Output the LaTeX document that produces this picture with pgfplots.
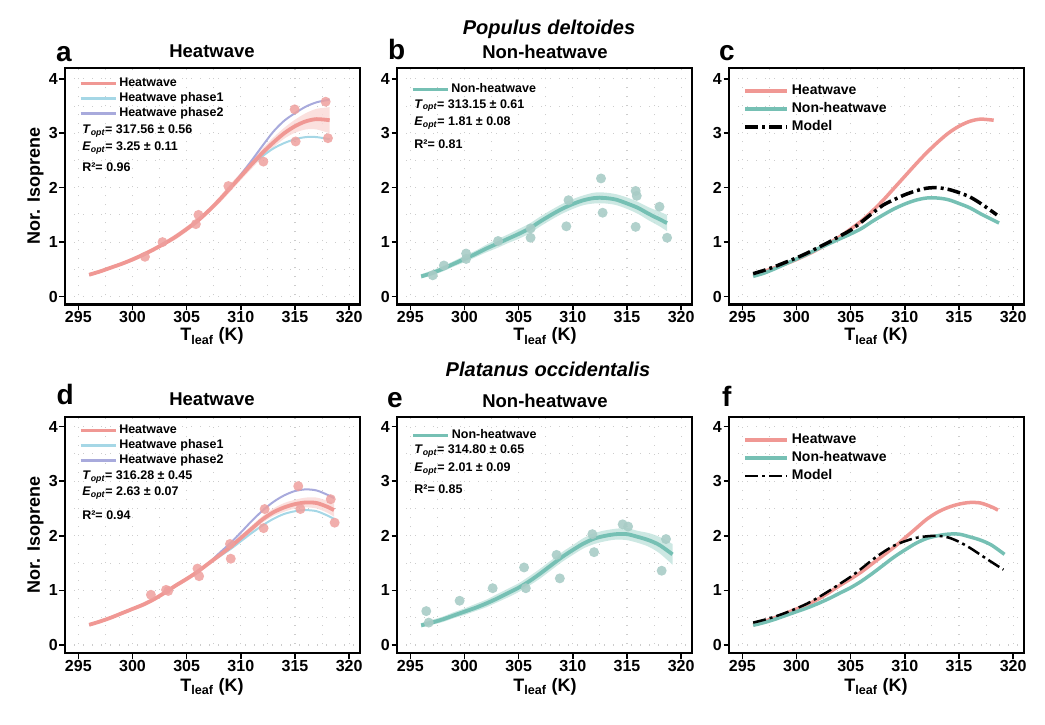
\documentclass[border=0pt]{standalone}
\usepackage{fontspec}
\setmainfont{Liberation Sans}
\usepackage{pgfplots}
\pgfplotsset{compat=1.18}
\usepackage{pgfplotstable}
\usepgfplotslibrary{fillbetween}

\definecolor{hw}{RGB}{240,152,148}
\definecolor{ph1}{RGB}{165,215,230}
\definecolor{ph2}{RGB}{168,170,220}
\definecolor{nhw}{RGB}{118,192,180}
\definecolor{hwpt}{RGB}{238,160,158}
\definecolor{nhwpt}{RGB}{168,204,198}
\definecolor{hwrib}{RGB}{250,218,216}
\definecolor{nhwrib}{RGB}{196,228,222}

% Populus heatwave fit
\pgfplotstableread{
T y lo hi
296 0.40 0.37 0.43
297 0.46 0.43 0.49
298 0.53 0.50 0.56
299 0.60 0.57 0.63
300 0.68 0.64 0.72
301 0.77 0.73 0.81
302 0.87 0.83 0.91
303 0.98 0.94 1.02
304 1.10 1.05 1.15
305 1.24 1.19 1.29
306 1.39 1.34 1.44
307 1.57 1.52 1.62
308 1.77 1.71 1.83
309 1.99 1.92 2.06
310 2.21 2.14 2.28
311 2.43 2.35 2.51
312 2.64 2.56 2.72
313 2.83 2.74 2.92
314 3.00 2.90 3.10
315 3.13 3.01 3.25
316 3.22 3.07 3.37
317 3.26 3.07 3.45
318.2 3.24 3.00 3.48
}\aHW
\pgfplotstableread{
T y
296 0.40
298 0.53
300 0.68
302 0.87
304 1.10
306 1.39
308 1.77
309 1.99
310 2.20
311 2.42
312 2.58
313 2.72
314 2.82
315 2.89
316 2.93
317 2.93
318.2 2.89
}\aPone
\pgfplotstableread{
T y
296 0.40
298 0.53
300 0.68
302 0.87
304 1.10
306 1.39
308 1.77
309 1.99
310 2.24
311 2.50
312 2.77
313 3.03
314 3.23
315 3.37
316 3.49
317 3.57
318.2 3.62
}\aPtwo
\pgfplotstableread{
T y
301.15 0.73
302.77 1.00
305.85 1.33
306.09 1.50
308.85 2.03
312.08 2.48
314.97 3.44
315.06 2.85
317.83 3.58
318.04 2.91
}\aPts

% Populus non-heatwave fit
\pgfplotstableread{
T y lo hi
296 0.37 0.33 0.41
297 0.43 0.39 0.48
298 0.51 0.46 0.56
299 0.60 0.55 0.65
300 0.69 0.63 0.75
301 0.78 0.72 0.84
302 0.88 0.81 0.95
303 0.97 0.89 1.05
304 1.06 0.98 1.14
305 1.15 1.06 1.24
306 1.25 1.16 1.34
307 1.38 1.29 1.47
308 1.50 1.41 1.59
309 1.61 1.52 1.70
310 1.70 1.61 1.79
311 1.77 1.68 1.86
312 1.81 1.71 1.91
313 1.81 1.71 1.91
314 1.78 1.68 1.88
315 1.71 1.61 1.82
316 1.63 1.52 1.74
317 1.52 1.40 1.64
318 1.42 1.29 1.56
318.7 1.35 1.20 1.50
}\bNHW
\pgfplotstableread{
T y
297.07 0.39
298.1 0.57
300.15 0.79
300.15 0.69
303.1 1.02
306.1 1.08
306.1 1.25
309.6 1.77
309.4 1.29
312.6 2.17
312.75 1.54
315.8 1.94
315.9 1.85
315.8 1.28
318.0 1.65
318.7 1.08
}\bPts

% Populus model
\pgfplotstableread{
T y
296 0.42
297 0.48
298 0.55
299 0.63
300 0.71
301 0.80
302 0.90
303 1.00
304 1.11
305 1.22
306 1.37
307 1.53
308 1.68
309 1.78
310 1.87
311 1.94
312 1.99
313 2.00
314 1.97
315 1.91
316 1.83
317 1.71
318.5 1.50
}\cMod

% Platanus heatwave fit
\pgfplotstableread{
T y lo hi
296 0.37 0.34 0.40
297 0.43 0.40 0.46
298 0.50 0.47 0.53
299 0.58 0.55 0.61
300 0.66 0.63 0.69
301 0.74 0.70 0.78
302 0.84 0.80 0.88
303 0.96 0.92 1.00
304 1.09 1.05 1.13
305 1.21 1.17 1.25
306 1.34 1.30 1.38
307 1.49 1.45 1.53
308 1.64 1.59 1.69
309 1.79 1.74 1.84
310 1.96 1.91 2.01
311 2.13 2.07 2.19
312 2.30 2.24 2.36
313 2.43 2.36 2.50
314 2.52 2.44 2.60
315 2.58 2.50 2.66
316 2.61 2.52 2.70
317 2.60 2.50 2.70
318 2.53 2.42 2.64
318.6 2.47 2.35 2.59
}\dHW
\pgfplotstableread{
T y
296 0.37
298 0.50
300 0.66
302 0.84
304 1.09
306 1.34
307 1.49
308 1.62
309 1.75
310 1.90
311 2.05
312 2.19
313 2.31
314 2.40
315 2.45
316 2.47
317 2.45
318 2.37
318.6 2.31
}\dPone
\pgfplotstableread{
T y
296 0.37
298 0.50
300 0.66
302 0.84
304 1.09
306 1.34
307 1.49
308 1.68
309 1.86
310 2.06
311 2.27
312 2.46
313 2.62
314 2.74
315 2.82
316 2.85
317 2.83
318 2.75
318.6 2.69
}\dPtwo
\pgfplotstableread{
T y
301.7 0.92
303.1 1.01
303.3 0.99
306.0 1.40
306.15 1.26
309.07 1.58
309.0 1.85
312.2 2.49
312.1 2.14
315.3 2.91
315.5 2.49
318.3 2.67
318.66 2.24
}\dPts

% Platanus non-heatwave fit
\pgfplotstableread{
T y lo hi
296 0.36 0.32 0.40
297 0.41 0.37 0.46
298 0.47 0.42 0.52
299 0.54 0.49 0.60
300 0.61 0.55 0.67
301 0.68 0.62 0.75
302 0.76 0.69 0.83
303 0.85 0.78 0.93
304 0.95 0.87 1.03
305 1.05 0.97 1.13
306 1.17 1.09 1.26
307 1.31 1.22 1.40
308 1.46 1.37 1.55
309 1.61 1.52 1.70
310 1.74 1.65 1.83
311 1.86 1.77 1.96
312 1.95 1.85 2.05
313 2.00 1.90 2.10
314 2.03 1.93 2.13
315 2.03 1.92 2.14
316 1.98 1.87 2.09
317 1.92 1.80 2.05
318 1.83 1.68 1.98
319.2 1.66 1.47 1.85
}\eNHW
\pgfplotstableread{
T y
296.47 0.62
296.7 0.41
299.55 0.81
302.6 1.04
305.5 1.42
305.66 1.04
308.5 1.65
308.8 1.22
311.8 2.03
311.96 1.70
314.6 2.21
315.1 2.17
318.2 1.36
318.6 1.94
}\ePts

% Platanus model
\pgfplotstableread{
T y
296 0.41
297 0.46
298 0.52
299 0.59
300 0.67
301 0.76
302 0.87
303 0.99
304 1.12
305 1.25
306 1.40
307 1.56
308 1.70
309 1.82
310 1.90
311 1.96
312 1.99
313 2.00
314 1.97
315 1.89
316 1.78
317 1.65
318 1.52
319.1 1.38
}\fMod

\pgfplotsset{
  panel/.style={
    scale only axis, width=295pt, height=236.5pt, anchor=south west,
    xmin=293.77, xmax=321.0, ymin=-0.147, ymax=4.2,
    xtick={295,300,...,320}, ytick={0,1,2,3,4},
    minor xtick={297.5,302.5,307.5,312.5,317.5},
    minor ytick={0.5,1.5,2.5,3.5},
    grid=both,
    major grid style={black!20, line width=1.1pt, dash pattern=on 1.2pt off 7.8pt},
    minor grid style={black!20, line width=1.1pt, dash pattern=on 1.2pt off 7.8pt},
    axis line style={line width=2.6pt, black},
    tick align=outside, tick pos=left,
    major tick length=5.5pt, minor tick length=0pt,
    major tick style={line width=1.6pt, black},
    ticklabel style={font=\bfseries\fontsize{16}{16}\selectfont, inner sep=1.5pt},
    /pgf/number format/assume math mode=true,
    /pgf/number format/1000 sep={},
    legend cell align=left,
    legend style={draw=none, fill=none, anchor=north west, inner sep=0pt,
      font=\bfseries\fontsize{12.5}{13}\selectfont,
      nodes={inner ysep=0pt, inner xsep=2pt, text height=9pt, text depth=3pt},
      row sep=3pt},
    legend image code/.code={\draw[##1] (0pt,0pt) -- (35pt,0pt);},
  },
  rowtwo/.style={height=236pt, ymin=-0.147, ymax=4.176},
  bigleg/.style={
    legend style={font=\bfseries\fontsize{14}{15}\selectfont,
      nodes={inner ysep=0pt, inner xsep=3pt, text height=10pt, text depth=3pt},
      row sep=5pt},
    legend image code/.code={\draw[##1] (0pt,0pt) -- (42pt,0pt);},
  },
}
\tikzset{ann/.style={anchor=west, inner sep=0pt, font=\bfseries\fontsize{12.5}{13}\selectfont}}

\newcommand{\topt}{\textit{T}\textsubscript{\textit{opt}}}
\newcommand{\eopt}{\textit{E}\textsubscript{\textit{opt}}}
\newcommand{\tleaf}{T\textsubscript{leaf} (K)}

\begin{document}
\begin{tikzpicture}
\path (0,0) rectangle (1045pt,724pt);

% ---------------- panel a ----------------
\begin{axis}[panel, at={(65pt,419.5pt)},
  legend style={at={(axis description cs:0.046,0.960)}}]
\addlegendimage{hw, line width=3.5pt}\addlegendentry{Heatwave}
\addlegendimage{ph1, line width=3pt}\addlegendentry{Heatwave phase1}
\addlegendimage{ph2, line width=3pt}\addlegendentry{Heatwave phase2}
\addplot[name path=aup, draw=none, smooth, forget plot] table[x=T,y=hi]{\aHW};
\addplot[name path=alo, draw=none, smooth, forget plot] table[x=T,y=lo]{\aHW};
\addplot[hwrib, fill opacity=0.85, forget plot] fill between[of=aup and alo];
\addplot[only marks, mark=*, mark size=5pt, hwpt, fill opacity=0.85, draw opacity=0, forget plot] table{\aPts};
\addplot[ph1, line width=2pt, smooth, forget plot] table{\aPone};
\addplot[ph2, line width=2pt, smooth, forget plot] table{\aPtwo};
\addplot[hw, line width=3.8pt, smooth, forget plot] table[x=T,y=y]{\aHW};
\node[ann] at (axis description cs:0.058,0.735) {\topt= 317.56 ± 0.56};
\node[ann] at (axis description cs:0.058,0.660) {\eopt= 3.25 ± 0.11};
\node[ann] at (axis description cs:0.058,0.580) {R²= 0.96};
\end{axis}

% ---------------- panel b ----------------
\begin{axis}[panel, at={(397pt,419.5pt)},
  legend style={at={(axis description cs:0.046,0.936)}}]
\addlegendimage{nhw, line width=3.5pt}\addlegendentry{Non-heatwave}
\addplot[name path=bup, draw=none, smooth, forget plot] table[x=T,y=hi]{\bNHW};
\addplot[name path=blo, draw=none, smooth, forget plot] table[x=T,y=lo]{\bNHW};
\addplot[nhwrib, fill opacity=0.85, forget plot] fill between[of=bup and blo];
\addplot[only marks, mark=*, mark size=5pt, nhwpt, fill opacity=0.9, draw opacity=0, forget plot] table{\bPts};
\addplot[nhw, line width=3.8pt, smooth, forget plot] table[x=T,y=y]{\bNHW};
\node[ann] at (axis description cs:0.058,0.841) {\topt= 313.15 ± 0.61};
\node[ann] at (axis description cs:0.058,0.766) {\eopt= 1.81 ± 0.08};
\node[ann] at (axis description cs:0.058,0.677) {R²= 0.81};
\end{axis}

% ---------------- panel c ----------------
\begin{axis}[panel, bigleg, at={(729pt,419.5pt)},
  legend style={at={(axis description cs:0.048,0.932)}}]
\addlegendimage{hw, line width=3.5pt}\addlegendentry{Heatwave}
\addlegendimage{nhw, line width=3.5pt}\addlegendentry{Non-heatwave}
\addlegendimage{black, line width=3.5pt, dash pattern=on 13pt off 4pt on 3pt off 4pt}\addlegendentry{Model}
\addplot[hw, line width=3.5pt, smooth, forget plot] table[x=T,y=y]{\aHW};
\addplot[nhw, line width=3.5pt, smooth, forget plot] table[x=T,y=y]{\bNHW};
\addplot[black, line width=3.5pt, smooth, dash pattern=on 13pt off 4pt on 3pt off 4pt, forget plot] table{\cMod};
\end{axis}

% ---------------- panel d ----------------
\begin{axis}[panel, rowtwo, at={(65pt,71pt)},
  legend style={at={(axis description cs:0.046,0.969)}}]
\addlegendimage{hw, line width=3.5pt}\addlegendentry{Heatwave}
\addlegendimage{ph1, line width=3pt}\addlegendentry{Heatwave phase1}
\addlegendimage{ph2, line width=3pt}\addlegendentry{Heatwave phase2}
\addplot[name path=dup, draw=none, smooth, forget plot] table[x=T,y=hi]{\dHW};
\addplot[name path=dlo, draw=none, smooth, forget plot] table[x=T,y=lo]{\dHW};
\addplot[hwrib, fill opacity=0.85, forget plot] fill between[of=dup and dlo];
\addplot[only marks, mark=*, mark size=5pt, hwpt, fill opacity=0.85, draw opacity=0, forget plot] table{\dPts};
\addplot[ph1, line width=2pt, smooth, forget plot] table{\dPone};
\addplot[ph2, line width=2pt, smooth, forget plot] table{\dPtwo};
\addplot[hw, line width=3.8pt, smooth, forget plot] table[x=T,y=y]{\dHW};
\node[ann] at (axis description cs:0.058,0.747) {\topt= 316.28 ± 0.45};
\node[ann] at (axis description cs:0.058,0.677) {\eopt= 2.63 ± 0.07};
\node[ann] at (axis description cs:0.058,0.585) {R²= 0.94};
\end{axis}

% ---------------- panel e ----------------
\begin{axis}[panel, rowtwo, at={(397pt,71pt)},
  legend style={at={(axis description cs:0.048,0.947)}}]
\addlegendimage{nhw, line width=3.5pt}\addlegendentry{Non-heatwave}
\addplot[name path=eup, draw=none, smooth, forget plot] table[x=T,y=hi]{\eNHW};
\addplot[name path=elo, draw=none, smooth, forget plot] table[x=T,y=lo]{\eNHW};
\addplot[nhwrib, fill opacity=0.85, forget plot] fill between[of=eup and elo];
\addplot[only marks, mark=*, mark size=5pt, nhwpt, fill opacity=0.9, draw opacity=0, forget plot] table{\ePts};
\addplot[nhw, line width=3.8pt, smooth, forget plot] table[x=T,y=y]{\eNHW};
\node[ann] at (axis description cs:0.058,0.857) {\topt= 314.80 ± 0.65};
\node[ann] at (axis description cs:0.058,0.778) {\eopt= 2.01 ± 0.09};
\node[ann] at (axis description cs:0.058,0.694) {R²= 0.85};
\end{axis}

% ---------------- panel f ----------------
\begin{axis}[panel, rowtwo, bigleg, at={(729pt,71pt)},
  legend style={at={(axis description cs:0.048,0.931)}}]
\addlegendimage{hw, line width=3.5pt}\addlegendentry{Heatwave}
\addlegendimage{nhw, line width=3.5pt}\addlegendentry{Non-heatwave}
\addlegendimage{black, line width=2.5pt, dash pattern=on 13pt off 4pt on 3pt off 4pt}\addlegendentry{Model}
\addplot[hw, line width=3.5pt, smooth, forget plot] table[x=T,y=y]{\dHW};
\addplot[nhw, line width=3.5pt, smooth, forget plot] table[x=T,y=y]{\eNHW};
\addplot[black, line width=2.5pt, smooth, dash pattern=on 13pt off 4pt on 3pt off 4pt, forget plot] table{\fMod};
\end{axis}

% ---------------- texts ----------------
\begin{scope}[every node/.style={inner sep=0pt}]
\node[anchor=base, font=\bfseries\itshape\fontsize{20}{20}\selectfont] at (549pt,689pt) {Populus deltoides};
\node[anchor=base, font=\bfseries\itshape\fontsize{20}{20}\selectfont] at (548pt,347pt) {Platanus occidentalis};
\foreach \l/\x/\y in {a/56/662.5, b/388/664, c/719/663.5, d/56.5/319, e/387/316.5, f/722/317.5}
  \node[anchor=base west, font=\bfseries\fontsize{28}{28}\selectfont] at (\x pt,\y pt) {\l};
\node[anchor=base, font=\bfseries\fontsize{18.5}{19}\selectfont] at (212pt,666pt) {Heatwave};
\node[anchor=base, font=\bfseries\fontsize{18.5}{19}\selectfont] at (545pt,665pt) {Non-heatwave};
\node[anchor=base, font=\bfseries\fontsize{18.5}{19}\selectfont] at (212pt,318pt) {Heatwave};
\node[anchor=base, font=\bfseries\fontsize{18.5}{19}\selectfont] at (545pt,316.5pt) {Non-heatwave};
\foreach \x in {212,545,876}{
  \node[anchor=base, font=\bfseries\fontsize{18}{18}\selectfont] at (\x pt,383pt) {\tleaf};
  \node[anchor=base, font=\bfseries\fontsize{18}{18}\selectfont] at (\x pt,33pt) {\tleaf};
}
\node[rotate=90, font=\bfseries\fontsize{18}{18}\selectfont] at (35.5pt,538pt) {Nor. Isoprene};
\node[rotate=90, font=\bfseries\fontsize{18}{18}\selectfont] at (35.5pt,189pt) {Nor. Isoprene};
\end{scope}
\end{tikzpicture}
\end{document}
